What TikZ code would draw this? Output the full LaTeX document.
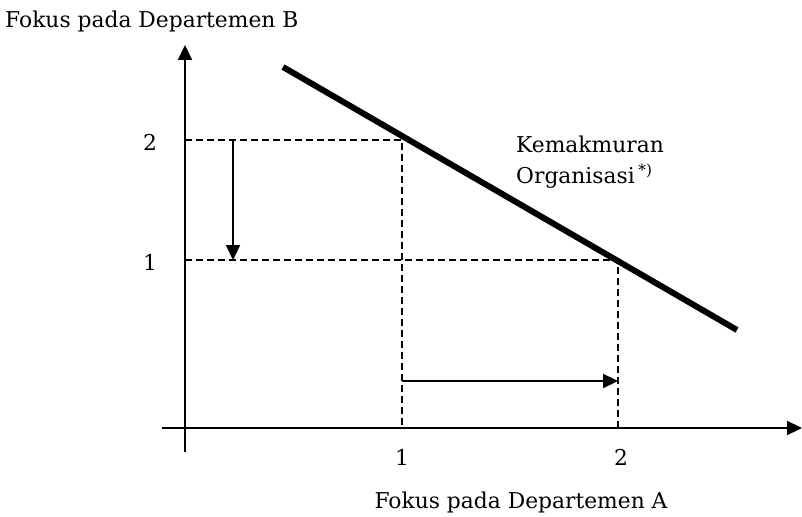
\documentclass[tikz,border=0pt]{standalone}
\usepackage{fontspec}
\setmainfont{DejaVu Serif}
\usetikzlibrary{arrows.meta}

\begin{document}
\begin{tikzpicture}[
        x=1pt, y=-1pt,
        axis/.style={line width=2.2pt, -{Triangle[length=15pt,width=14pt]}},
        guide/.style={line width=1.5pt, dash pattern=on 7pt off 4pt},
        movearrow/.style={line width=2.2pt, -{Triangle[length=15pt,width=14pt]}},
        frontier/.style={line width=6pt},
        lbl/.style={font=\fontsize{21.8}{25}\selectfont, inner sep=0pt}
    ]
        \useasboundingbox (0,0) rectangle (802,516);

        % Axes
        \coordinate (xstart) at (162,428);
        \coordinate (xend) at (802,428);
        \coordinate (ystart) at (185,452);
        \coordinate (yend) at (185,45);
        \draw[axis] (xstart) -- (xend);
        \draw[axis] (ystart) -- (yend);

        % Points on the frontier
        \coordinate (b2) at (185,140);
        \coordinate (p1) at (402,140);
        \coordinate (a1) at (402,428);
        \coordinate (b1) at (185,260);
        \coordinate (p2) at (618,260);
        \coordinate (a2) at (618,428);

        % Dashed guides
        \draw[guide] (b2) -- (p1) -- (a1);
        \draw[guide] (b1) -- (p2) -- (a2);

        % Frontier line
        \coordinate (fstart) at (283,67);
        \coordinate (fend) at (737,330);
        \draw[frontier] (fstart) -- (fend);

        % Shifts
        \coordinate (downtop) at (233,140);
        \coordinate (downbot) at (233,260);
        \draw[movearrow] (downtop) -- (downbot);
        \coordinate (rightl) at (402,381);
        \coordinate (rightr) at (618,381);
        \draw[movearrow] (rightl) -- (rightr);

        % Tick labels
        \node[lbl, anchor=base] (ytwo) at (150,150) {2};
        \node[lbl, anchor=base] (yone) at (150,270) {1};
        \node[lbl, anchor=base] (xone) at (402,465) {1};
        \node[lbl, anchor=base] (xtwo) at (621,465) {2};

        % Axis titles
        \node[lbl, anchor=base west] (ytitle) at (5,28) {Fokus pada Departemen B};
        \node[lbl, anchor=base] (xtitle) at (521,508) {Fokus pada Departemen A};

        % Curve label
        \node[lbl, anchor=base west] (prosp) at (516,152) {Kemakmuran};
        \node[lbl, anchor=base west] (org) at (516,183) {Organisasi\,\textsuperscript{*)}};

    \end{tikzpicture}
\end{document}
